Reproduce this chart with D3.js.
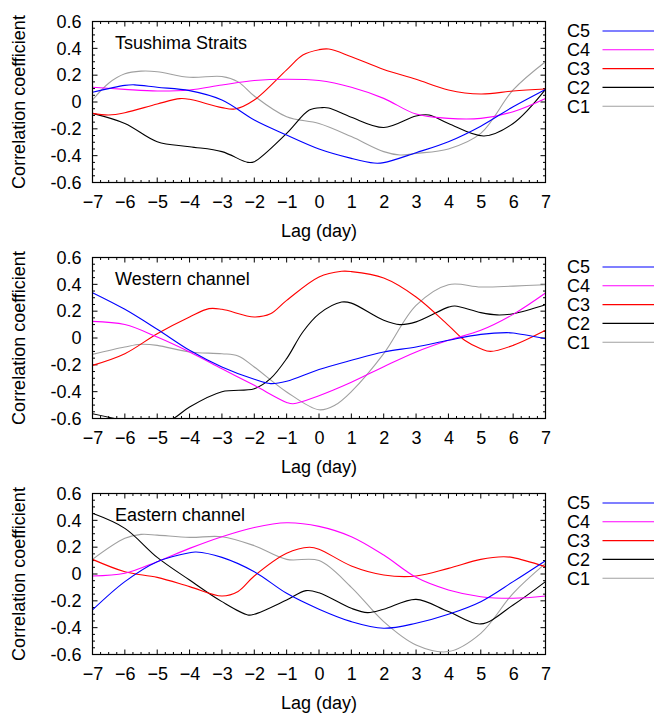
<!DOCTYPE html>
<html><head><meta charset="utf-8">
<script src="https://cdn.jsdelivr.net/npm/d3@7"></script>
<style>body{margin:0;background:#fff}svg{display:block}text{font-family:"Liberation Sans",Arial,sans-serif;fill:#000}</style>
</head><body>
<svg id="chart" width="654" height="713"></svg>
<script>
const seriesNames = ["C5","C4","C3","C2","C1"];
const seriesColors = ["#0000ff","#ff00ff","#ff0000","#000000","#a0a0a0"];
const panelTitles = ["Tsushima Straits","Western channel","Eastern channel"];
const xTicks = [-7,-6,-5,-4,-3,-2,-1,0,1,2,3,4,5,6,7];
const yTicks = [-0.6,-0.4,-0.2,0,0.2,0.4,0.6];
const yTickLabels = ["-0.6","-0.4","-0.2","0","0.2","0.4","0.6"];

// Tsushima Straits: [lag, r]
const tsC5 = [[-7,0.072],[-6,0.124],[-5.7,0.128],[-5,0.11],[-4,0.085],[-3,0.015],[-2,-0.134],[-1,-0.246],[0,-0.35],[1,-0.42],[1.7,-0.455],[2,-0.452],[3,-0.378],[4,-0.296],[5,-0.18],[6,-0.035],[7,0.094]];
const tsC4 = [[-7,0.11],[-6,0.094],[-5,0.082],[-4,0.09],[-3,0.127],[-2,0.16],[-1,0.17],[0,0.16],[1,0.11],[2,0.027],[3,-0.09],[4,-0.122],[5,-0.122],[6,-0.072],[7,0.027]];
const tsC3 = [[-7,-0.085],[-6.5,-0.097],[-6,-0.08],[-5,-0.015],[-4.3,0.025],[-4,0.02],[-3,-0.042],[-2.6,-0.052],[-2,0.015],[-1,0.24],[-0.5,0.35],[0,0.39],[0.3,0.395],[1,0.338],[2,0.243],[3,0.17],[4,0.09],[5,0.06],[6,0.082],[7,0.097]];
const tsC2 = [[-7,-0.085],[-6,-0.16],[-5,-0.296],[-4,-0.333],[-3,-0.37],[-2.2,-0.45],[-2,-0.445],[-1,-0.234],[-0.3,-0.06],[0.1,-0.042],[0.3,-0.045],[1,-0.114],[2,-0.19],[3,-0.104],[3.4,-0.097],[4,-0.16],[5.1,-0.253],[6,-0.16],[7,0.094]];
const tsC1 = [[-7,0.015],[-6.5,0.14],[-6,0.21],[-5.5,0.23],[-5,0.226],[-4,0.184],[-3,0.19],[-2.5,0.15],[-2,0.045],[-1,-0.11],[0,-0.16],[1,-0.258],[2,-0.37],[2.5,-0.395],[3,-0.383],[4,-0.35],[5,-0.234],[6,0.09],[7,0.30]];

// Western channel
const wcC5 = [[-7,0.338],[-6,0.214],[-5,0.065],[-4,-0.092],[-3,-0.216],[-2,-0.308],[-1.5,-0.34],[-1,-0.323],[0,-0.235],[1,-0.166],[2,-0.104],[3,-0.067],[4,-0.017],[5,0.027],[5.8,0.04],[6,0.037],[7,-0.005]];
const wcC4 = [[-7,0.124],[-6,0.1],[-5,0.007],[-4,-0.104],[-3,-0.229],[-2,-0.353],[-1,-0.48],[-0.8,-0.49],[0,-0.43],[1,-0.33],[2,-0.214],[3,-0.104],[4,-0.017],[5,0.057],[6,0.176],[7,0.335]];
const wcC3 = [[-7,-0.204],[-6,-0.117],[-5,0.032],[-4,0.157],[-3.4,0.219],[-3,0.214],[-2,0.157],[-1.5,0.18],[-1,0.28],[0,0.455],[0.7,0.497],[1,0.495],[2,0.447],[3,0.306],[4,0.094],[4.5,-0.017],[5,-0.08],[5.3,-0.1],[6,-0.055],[7,0.057]];
const wcC2 = [[-7,-0.564],[-6,-0.62],[-5.3,-0.68],[-4.5,-0.6],[-4,-0.514],[-3,-0.40],[-2,-0.378],[-1.5,-0.303],[-1,-0.154],[-0.5,0.045],[0,0.18],[0.7,0.268],[1,0.26],[2,0.132],[2.5,0.1],[3,0.12],[4,0.23],[4.2,0.238],[5,0.189],[5.5,0.172],[6,0.181],[7,0.248]];
const wcC1 = [[-7,-0.122],[-6,-0.067],[-5.5,-0.047],[-5,-0.055],[-4,-0.104],[-3,-0.117],[-2.5,-0.134],[-2,-0.216],[-1,-0.402],[0,-0.535],[0.5,-0.5],[1,-0.40],[2,-0.117],[3,0.243],[4,0.397],[5,0.38],[6,0.387],[7,0.397]];

// Eastern channel
const ecC5 = [[-7,-0.268],[-6,-0.057],[-5,0.092],[-4,0.159],[-3.8,0.164],[-3,0.124],[-2,0.017],[-1,-0.144],[0,-0.262],[1,-0.355],[2,-0.404],[3,-0.367],[4,-0.3],[5,-0.206],[6,-0.057],[7,0.099]];
const ecC4 = [[-7,-0.015],[-6,0.005],[-5,0.092],[-4,0.191],[-3,0.278],[-2,0.347],[-1,0.382],[0,0.355],[1,0.278],[2,0.141],[3,-0.025],[4,-0.119],[5,-0.169],[6,-0.181],[7,-0.164]];
const ecC3 = [[-7,0.109],[-6,0.017],[-5,-0.025],[-4,-0.094],[-3,-0.164],[-2.5,-0.13],[-2,-0.015],[-1,0.154],[-0.3,0.199],[0,0.185],[1,0.06],[2,-0.007],[3,-0.015],[4,0.042],[5,0.109],[5.7,0.129],[6,0.122],[7,0.055]];
const ecC2 = [[-7,0.452],[-6,0.34],[-5,0.124],[-4,-0.045],[-3,-0.206],[-2.2,-0.305],[-2,-0.3],[-1,-0.194],[-0.4,-0.124],[0,-0.14],[1,-0.256],[1.5,-0.288],[2,-0.263],[3,-0.189],[4,-0.28],[5,-0.372],[6,-0.231],[7,-0.057]];
const ecC1 = [[-7,0.109],[-6,0.266],[-5.5,0.295],[-5,0.29],[-4,0.273],[-3,0.278],[-2,0.211],[-1,0.109],[0,0.1],[1,-0.099],[2,-0.355],[3,-0.529],[4,-0.578],[5,-0.442],[6,-0.144],[7,0.079]];

const panelData = [[tsC5,tsC4,tsC3,tsC2,tsC1],[wcC5,wcC4,wcC3,wcC2,wcC1],[ecC5,ecC4,ecC3,ecC2,ecC1]];

const svg = d3.select("#chart");
const FS = "18px";
const left = 92.5, width = 453, height = 161;
const tops = [21.5, 257.5, 493.5];
const x = d3.scaleLinear().domain([-7,7]).range([0,width]);
const y = d3.scaleLinear().domain([-0.6,0.6]).range([height,0]);
const minorX = d3.range(-7,7.001,0.25);
const minorY = d3.range(-0.6,0.6001,0.05);

panelData.forEach((series,pi)=>{
  const g = svg.append("g").attr("transform",`translate(${left},${tops[pi]})`);
  g.append("clipPath").attr("id","clip"+pi).append("rect").attr("width",width).attr("height",height);
  const tk = g.append("g").attr("stroke","#000").attr("stroke-width",1);
  minorX.forEach(v=>{
    const isMaj = Math.abs(v-Math.round(v))<1e-6;
    const L = isMaj?5:2.5;
    tk.append("line").attr("x1",x(v)).attr("x2",x(v)).attr("y1",height).attr("y2",height-L);
    tk.append("line").attr("x1",x(v)).attr("x2",x(v)).attr("y1",0).attr("y2",L);
  });
  minorY.forEach(v=>{
    const isMaj = Math.abs(v*5-Math.round(v*5))<1e-6;
    const L = isMaj?5:2.5;
    tk.append("line").attr("y1",y(v)).attr("y2",y(v)).attr("x1",0).attr("x2",L);
    tk.append("line").attr("y1",y(v)).attr("y2",y(v)).attr("x1",width).attr("x2",width-L);
  });
  const xa = g.append("g").attr("transform",`translate(0,${height})`)
    .call(d3.axisBottom(x).tickValues(xTicks).tickSize(0).tickPadding(13).tickFormat(d3.format("d")));
  xa.select(".domain").remove();
  xa.selectAll("text").style("font-size",FS).attr("font-family","Liberation Sans, Arial, sans-serif");
  const ya = g.append("g")
    .call(d3.axisLeft(y).tickValues(yTicks).tickSize(0).tickPadding(11).tickFormat((d,i)=>yTickLabels[i]));
  ya.select(".domain").remove();
  ya.selectAll("text").style("font-size",FS).attr("font-family","Liberation Sans, Arial, sans-serif");
  const line = d3.line().x(d=>x(d[0])).y(d=>y(d[1])).curve(d3.curveCatmullRom.alpha(0.5));
  const lg = g.append("g").attr("clip-path",`url(#clip${pi})`);
  series.slice().reverse().forEach((s,ri)=>{
    const i = series.length-1-ri;
    lg.append("path").attr("d",line(s)).attr("fill","none").attr("stroke",seriesColors[i]).attr("stroke-width",1.1);
  });
  g.append("rect").attr("width",width).attr("height",height).attr("fill","none").attr("stroke","#000").attr("stroke-width",1.2);
  g.append("text").attr("x",22.5).attr("y",27).style("font-size",FS).text(panelTitles[pi]);
  g.append("text").attr("x",width/2).attr("y",height+54).attr("text-anchor","middle").style("font-size",FS).text("Lag (day)");
  g.append("text").attr("transform",`translate(${-67.5},${height/2}) rotate(-90)`).attr("text-anchor","middle").style("font-size",FS).text("Correlation coefficient");
  seriesNames.forEach((n,i)=>{
    const ly = 9.5 + i*18.8;
    g.append("text").attr("x",497.5).attr("y",ly).attr("dy","0.35em").attr("text-anchor","end").style("font-size",FS).text(n);
    g.append("line").attr("x1",510).attr("x2",570).attr("y1",ly).attr("y2",ly).attr("stroke",seriesColors[i]).attr("stroke-width",1.1);
  });
});
</script>
</body></html>
